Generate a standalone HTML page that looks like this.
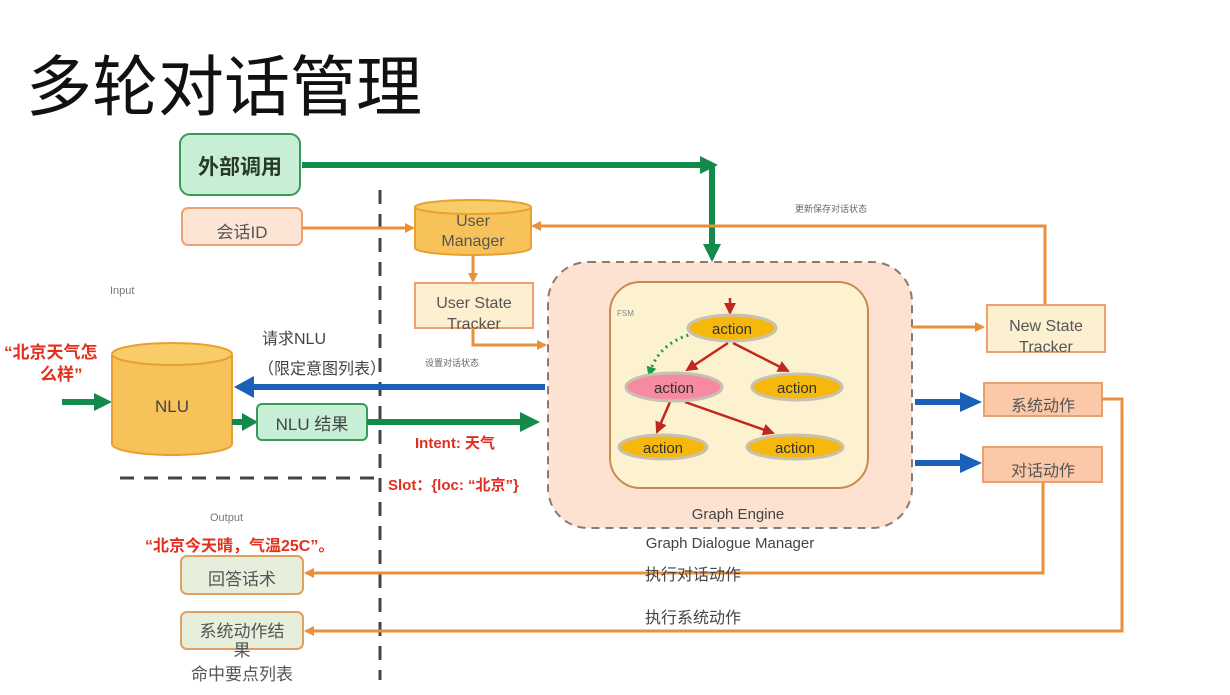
<!DOCTYPE html>
<html><head><meta charset="utf-8"><style>
html,body{margin:0;padding:0;background:#fff;}
svg{display:block;font-family:"Liberation Sans","Noto Sans CJK SC",sans-serif;}
</style></head><body>
<svg width="1230" height="695" viewBox="0 0 1230 695" xmlns="http://www.w3.org/2000/svg">
<defs>
<marker id="og" markerWidth="10" markerHeight="10" refX="8" refY="5" orient="auto" markerUnits="userSpaceOnUse"><path d="M0,0 L10,5 L0,10 z" fill="#e8903a"/></marker>
<marker id="rd" markerWidth="12" markerHeight="12" refX="10" refY="6" orient="auto" markerUnits="userSpaceOnUse"><path d="M0,0 L12,6 L0,12 z" fill="#c0281e"/></marker>
<marker id="gd" markerWidth="10" markerHeight="10" refX="5" refY="5" orient="auto" markerUnits="userSpaceOnUse"><path d="M0,0 L10,5 L0,10 z" fill="#1a9a4a"/></marker>
</defs>
<text x="26" y="110" font-size="66" fill="#111">多轮对话管理</text>

<line x1="380" y1="190" x2="380" y2="680" stroke="#444" stroke-width="3" stroke-dasharray="14,10"/>
<line x1="120" y1="478" x2="378" y2="478" stroke="#444" stroke-width="3" stroke-dasharray="14,10"/>

<rect x="180" y="134" width="120" height="61" rx="10" fill="#c8efd6" stroke="#3a9a5a" stroke-width="2"/>
<text x="240" y="174" font-size="21" font-weight="bold" fill="#2a3a2a" text-anchor="middle">外部调用</text>
<polyline points="302,165 712,165" fill="none" stroke="#138a4a" stroke-width="6"/>
<path d="M700,156 L718,165 L700,174 z" fill="#138a4a"/>
<line x1="712" y1="165" x2="712" y2="248" stroke="#138a4a" stroke-width="6"/>
<path d="M703,244 L712,262 L721,244 z" fill="#138a4a"/>

<rect x="182" y="208" width="120" height="37" rx="6" fill="#fde5d6" stroke="#f0a070" stroke-width="2"/>
<text x="242" y="238" font-size="17" fill="#555" text-anchor="middle">会话ID</text>
<line x1="302" y1="228" x2="413" y2="228" stroke="#e8903a" stroke-width="3" marker-end="url(#og)"/>

<path d="M415,207 L415,248 A58,7 0 0 0 531,248 L531,207" fill="#f7c25a" stroke="#e8a030" stroke-width="2"/>
<ellipse cx="473" cy="207" rx="58" ry="7" fill="#f9cc6a" stroke="#e8a030" stroke-width="2"/>
<text x="473" y="226" font-size="16" fill="#555" text-anchor="middle">User</text>
<text x="473" y="246" font-size="16" fill="#555" text-anchor="middle">Manager</text>
<polyline points="1045,305 1045,226 533,226" fill="none" stroke="#e8903a" stroke-width="3" marker-end="url(#og)"/>
<text x="795" y="212" font-size="9" fill="#666">更新保存对话状态</text>
<line x1="473" y1="256" x2="473" y2="281" stroke="#e8903a" stroke-width="3" marker-end="url(#og)"/>

<rect x="415" y="283" width="118" height="45" fill="#fdf0d0" stroke="#f0a070" stroke-width="2"/>
<text x="474" y="308" font-size="16" fill="#555" text-anchor="middle">User State</text>
<text x="474" y="329" font-size="16" fill="#555" text-anchor="middle">Tracker</text>
<polyline points="473,328 473,345 545,345" fill="none" stroke="#e8903a" stroke-width="3" marker-end="url(#og)"/>
<text x="425" y="366" font-size="9" fill="#666">设置对话状态</text>

<text x="110" y="294" font-size="11" fill="#777">Input</text>
<text x="4" y="358" font-size="17" font-weight="bold" fill="#e03020">“北京天气怎</text>
<text x="40" y="380" font-size="17" font-weight="bold" fill="#e03020">么样”</text>
<line x1="62" y1="402" x2="96" y2="402" stroke="#138a4a" stroke-width="6"/>
<path d="M94,393 L112,402 L94,411 z" fill="#138a4a"/>

<path d="M112,354 L112,444 A60,11 0 0 0 232,444 L232,354" fill="#f7c25a" stroke="#e8a030" stroke-width="2"/>
<ellipse cx="172" cy="354" rx="60" ry="11" fill="#f9cc6a" stroke="#e8a030" stroke-width="2"/>
<text x="172" y="412" font-size="17" fill="#444" text-anchor="middle">NLU</text>

<text x="262" y="344" font-size="16" fill="#444">请求NLU</text>
<text x="258" y="374" font-size="16" fill="#444">（限定意图列表）</text>
<line x1="545" y1="387" x2="252" y2="387" stroke="#1a5fb8" stroke-width="6"/>
<path d="M254,376 L234,387 L254,398 z" fill="#1a5fb8"/>

<line x1="232" y1="422" x2="244" y2="422" stroke="#138a4a" stroke-width="6"/>
<path d="M242,413 L258,422 L242,431 z" fill="#138a4a"/>
<rect x="257" y="404" width="110" height="36" rx="5" fill="#c8efd6" stroke="#3a9a5a" stroke-width="2"/>
<text x="312" y="430" font-size="17" fill="#444" text-anchor="middle">NLU 结果</text>
<line x1="367" y1="422" x2="522" y2="422" stroke="#138a4a" stroke-width="6"/>
<path d="M520,412 L540,422 L520,432 z" fill="#138a4a"/>
<text x="415" y="448" font-size="15" font-weight="bold" fill="#e03020">Intent: 天气</text>
<text x="388" y="490" font-size="15" font-weight="bold" fill="#e03020">Slot：{loc: “北京”}</text>

<rect x="548" y="262" width="364" height="266" rx="40" fill="#fde2d2" stroke="#8a7a70" stroke-width="2" stroke-dasharray="8,6"/>
<rect x="610" y="282" width="258" height="206" rx="30" fill="#fdf2d0" stroke="#c98a50" stroke-width="2"/>
<text x="617" y="316" font-size="8" fill="#888">FSM</text>
<line x1="730" y1="298" x2="730" y2="313" stroke="#c0281e" stroke-width="2.5" marker-end="url(#rd)"/>
<line x1="728" y1="343" x2="687" y2="370" stroke="#c0281e" stroke-width="2.5" marker-end="url(#rd)"/>
<line x1="733" y1="343" x2="788" y2="371" stroke="#c0281e" stroke-width="2.5" marker-end="url(#rd)"/>
<line x1="670" y1="402" x2="657" y2="432" stroke="#c0281e" stroke-width="2.5" marker-end="url(#rd)"/>
<line x1="685" y1="402" x2="773" y2="433" stroke="#c0281e" stroke-width="2.5" marker-end="url(#rd)"/>
<path d="M700,332 Q660,340 650,372" fill="none" stroke="#1a9a4a" stroke-width="3" stroke-dasharray="2,4" marker-end="url(#gd)"/>
<ellipse cx="732" cy="328" rx="44" ry="13" fill="#f6b80c" stroke="#c8c0b0" stroke-width="3"/>
<text x="732" y="334" font-size="15" fill="#333" text-anchor="middle">action</text>
<ellipse cx="674" cy="387" rx="48" ry="14" fill="#f58aa0" stroke="#c8c0b0" stroke-width="3"/>
<text x="674" y="393" font-size="15" fill="#333" text-anchor="middle">action</text>
<ellipse cx="797" cy="387" rx="45" ry="13" fill="#f6b80c" stroke="#c8c0b0" stroke-width="3"/>
<text x="797" y="393" font-size="15" fill="#333" text-anchor="middle">action</text>
<ellipse cx="663" cy="447" rx="44" ry="12" fill="#f6b80c" stroke="#c8c0b0" stroke-width="3"/>
<text x="663" y="453" font-size="15" fill="#333" text-anchor="middle">action</text>
<ellipse cx="795" cy="447" rx="48" ry="12" fill="#f6b80c" stroke="#c8c0b0" stroke-width="3"/>
<text x="795" y="453" font-size="15" fill="#333" text-anchor="middle">action</text>
<text x="738" y="519" font-size="15" fill="#444" text-anchor="middle">Graph Engine</text>
<text x="730" y="548" font-size="15" fill="#444" text-anchor="middle">Graph Dialogue Manager</text>

<line x1="912" y1="327" x2="983" y2="327" stroke="#e8903a" stroke-width="3" marker-end="url(#og)"/>
<rect x="987" y="305" width="118" height="47" fill="#fdf0d0" stroke="#f0a070" stroke-width="2"/>
<text x="1046" y="331" font-size="16" fill="#555" text-anchor="middle">New State</text>
<text x="1046" y="352" font-size="16" fill="#555" text-anchor="middle">Tracker</text>

<line x1="915" y1="402" x2="962" y2="402" stroke="#1a5fb8" stroke-width="6"/>
<path d="M960,392 L982,402 L960,412 z" fill="#1a5fb8"/>
<line x1="915" y1="463" x2="962" y2="463" stroke="#1a5fb8" stroke-width="6"/>
<path d="M960,453 L982,463 L960,473 z" fill="#1a5fb8"/>
<rect x="984" y="383" width="118" height="33" fill="#fbc9a8" stroke="#e8a070" stroke-width="2"/>
<text x="1043" y="411" font-size="16" fill="#555" text-anchor="middle">系统动作</text>
<rect x="983" y="447" width="119" height="35" fill="#fbc9a8" stroke="#e8a070" stroke-width="2"/>
<text x="1043" y="476" font-size="16" fill="#555" text-anchor="middle">对话动作</text>

<polyline points="1102,399 1122,399 1122,631 306,631" fill="none" stroke="#e8903a" stroke-width="3" marker-end="url(#og)"/>
<polyline points="1043,482 1043,573 306,573" fill="none" stroke="#e8903a" stroke-width="3" marker-end="url(#og)"/>
<text x="645" y="580" font-size="16" fill="#444">执行对话动作</text>
<text x="645" y="623" font-size="16" fill="#444">执行系统动作</text>

<text x="210" y="521" font-size="11" fill="#777">Output</text>
<text x="145" y="551" font-size="16" font-weight="bold" fill="#e03020">“北京今天晴，气温25C”。</text>
<rect x="181" y="556" width="122" height="38" rx="6" fill="#e6eedc" stroke="#e0a060" stroke-width="2"/>
<text x="242" y="585" font-size="17" fill="#555" text-anchor="middle">回答话术</text>
<rect x="181" y="612" width="122" height="37" rx="6" fill="#e6eedc" stroke="#e0a060" stroke-width="2"/>
<text x="242" y="637" font-size="17" fill="#555" text-anchor="middle">系统动作结</text>
<text x="242" y="656" font-size="17" fill="#555" text-anchor="middle">果</text>
<text x="242" y="680" font-size="17" fill="#555" text-anchor="middle">命中要点列表</text>
</svg>
</body></html>
